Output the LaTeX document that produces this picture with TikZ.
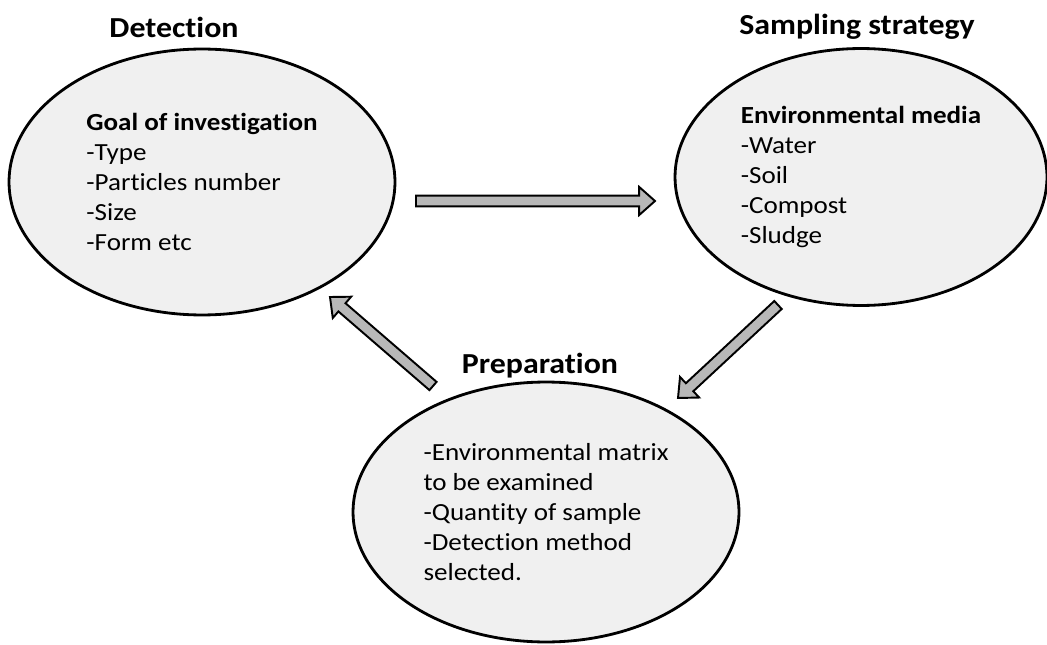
\documentclass[tikz,border=0pt]{standalone}
\usepackage{fontspec}
\setmainfont{Carlito}[FakeStretch=1.1, Ligatures=NoCommon]
\usetikzlibrary{shapes.geometric,calc}

\tikzset{
    stage/.style={ellipse, draw, line width=1.6pt, fill=black!6, align=left, inner sep=0pt,
        font=\fontsize{14}{17}\selectfont},
    stagetitle/.style={font=\fontsize{16.5}{19}\selectfont\bfseries},
    blockarrow/.style={draw=black, line width=1.1pt, fill=black!28, line join=miter,
        to path={let \p3=($(\tikztotarget)!9pt!(\tikztostart)$) in
            ($(\tikztostart)!3.1pt!90:(\tikztotarget)$) -- ($(\p3)!3.1pt!90:(\tikztotarget)$)
            -- ($(\p3)!8pt!90:(\tikztotarget)$) -- (\tikztotarget)
            -- ($(\p3)!8pt!-90:(\tikztotarget)$) -- ($(\p3)!3.1pt!-90:(\tikztotarget)$)
            -- ($(\tikztostart)!3.1pt!-90:(\tikztotarget)$) -- cycle}}
}

\begin{document}
\begin{tikzpicture}[x=0.02cm, y=-0.02cm]
        \useasboundingbox (0,0) rectangle (1047,645);
        % stages
        \node[stage, minimum width=7.72cm, minimum height=5.32cm] (detect) at (202,182)
            {\textbf{Goal of investigation}\\-Type\\-Particles number\\-Size\\-Form etc};
        \node[stage, minimum width=7.44cm, minimum height=5.14cm] (sample) at (861,177)
            {\textbf{Environmental media}\\-Water\\-Soil\\-Compost\\-Sludge};
        \node[stage, minimum width=7.72cm, minimum height=5.2cm] (prep) at (546,512)
            {-Environmental matrix\\to be examined\\-Quantity of sample\\-Detection method\\selected.};
        % titles
        \node[stagetitle] (detecttitle) at (174,27) {Detection};
        \node[stagetitle] (sampletitle) at (857,27) {Sampling strategy};
        \node[stagetitle] (preptitle) at (540,366) {Preparation};
        % arrows
        \coordinate (a1s) at (416,201); \coordinate (a1e) at (655,201);
        \coordinate (a2s) at (778,305); \coordinate (a2e) at (678,398);
        \coordinate (a3s) at (433,386); \coordinate (a3e) at (330,297);
        \draw[blockarrow] (a1s) to (a1e);
        \draw[blockarrow] (a2s) to (a2e);
        \draw[blockarrow] (a3s) to (a3e);
    \end{tikzpicture}
\end{document}
